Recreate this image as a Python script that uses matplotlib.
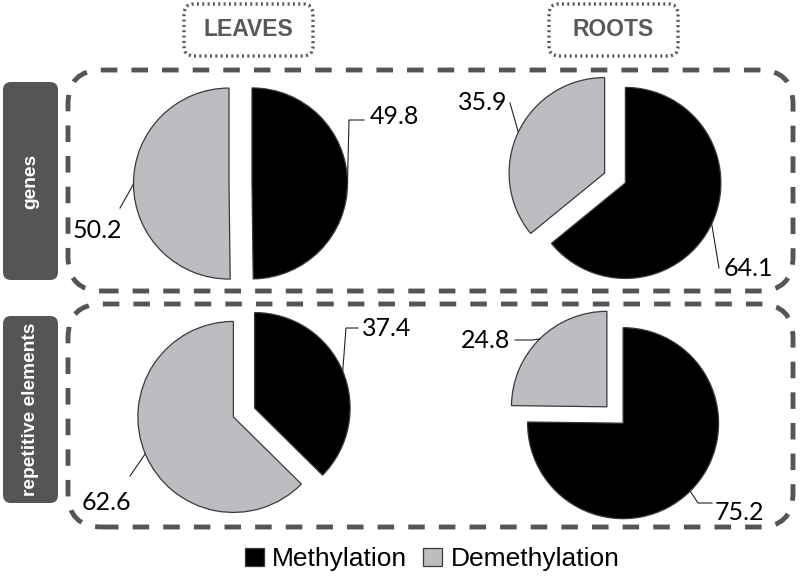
"""Methylation vs demethylation shares in leaves and roots, for genes and
repetitive elements: four exploded pies inside dashed row frames."""
import matplotlib

matplotlib.use("Agg")
import numpy as np
import matplotlib.pyplot as plt
from matplotlib.patches import FancyBboxPatch

tissues = ["LEAVES", "ROOTS"]
regions = ["genes", "repetitive elements"]
series = ["Methylation", "Demethylation"]
# panel order: leaves/genes, roots/genes, leaves/repeats, roots/repeats
methylation = [49.8, 64.1, 37.4, 75.2]
demethylation = [50.2, 35.9, 62.6, 24.8]

W, H = 800, 579
BLACK = "#000000"
GREY = "#bcbdc0"
FRAME = "#555555"


def Y(py):
    # work in pixel coordinates measured from the top
    return H - py


fig = plt.figure(figsize=(W / 100, H / 100), dpi=100)
ax = fig.add_axes([0, 0, 1, 1])

# pie centres (unexploded) in pixels
centres = [(240.5, 183.5), (615, 178), (244, 412.5), (615, 415)]
R = 95.5
EXPL = 11.5  # pie() offsets in data units, i.e. pixels here

# leader knees and text anchors per panel: (black label, grey label)
leaders = [
    (([(349, 120), (364, 120)], (370, 117), "left"),
     ([(120, 208)], (122, 230), "right")),
    (([(719, 268)], (724, 268), "left"),
     ([(510, 103)], (507, 103), "right")),
    (([(346, 328), (358, 328)], (362, 328), "left"),
     ([(130, 476)], (131, 503), "right")),
    (([(698, 503), (712, 503)], (715, 513), "left"),
     ([(533, 340), (515, 340)], (510, 340), "right")),
]

wedges_all = []
for i, (cx, cy) in enumerate(centres):
    vals = [methylation[i], demethylation[i]]
    wedges, _ = ax.pie(vals, colors=[BLACK, GREY], startangle=90,
                       counterclock=False, radius=R, center=(cx, Y(cy)),
                       explode=[EXPL, EXPL],
                       wedgeprops=dict(edgecolor="#3a3a3a", linewidth=0.9))
    wedges_all.append(wedges)
    for w, v, (pts, txy, ha) in zip(wedges, vals, leaders[i]):
        mid = np.deg2rad((w.theta1 + w.theta2) / 2)
        ex = w.center[0] + w.r * np.cos(mid)
        ey = w.center[1] + w.r * np.sin(mid)
        xs = [ex] + [p[0] for p in pts]
        ys = [ey] + [Y(p[1]) for p in pts]
        ax.plot(xs, ys, color="#222222", linewidth=0.8, zorder=4)
        ax.text(txy[0], Y(txy[1]), f"{v:.1f}", ha=ha, va="center",
                fontsize=18, family="Lato", color="black", zorder=5)

# dashed row frames
for top, bot in [(70, 291), (304, 527)]:
    ax.add_patch(FancyBboxPatch((68, Y(bot)), 793 - 68, bot - top,
                                boxstyle="round,pad=0,rounding_size=34",
                                facecolor="none", edgecolor=FRAME,
                                linewidth=3.5, linestyle=(0, (3.4, 2.9)),
                                zorder=1))

# dark row labels
for (top, bot), name in zip([(82, 280), (316, 503)], regions):
    ax.add_patch(FancyBboxPatch((3, Y(bot)), 55, bot - top,
                                boxstyle="round,pad=0,rounding_size=8",
                                facecolor="#555555", edgecolor="none"))
    ax.text(31, Y((top + bot) / 2), name, rotation=90, ha="center",
            va="center", color="white", fontsize=13.8, fontweight="bold",
            family="Liberation Sans")

# dotted column headers
for (x0, x1), name in zip([(184, 313), (549, 678)], tissues):
    ax.add_patch(FancyBboxPatch((x0, Y(56)), x1 - x0, 52,
                                boxstyle="round,pad=0,rounding_size=10",
                                facecolor="none", edgecolor="#555555",
                                linewidth=2.4, linestyle=(0, (0.6, 1.0))))
    ax.text((x0 + x1) / 2, Y(30), name, ha="center", va="center",
            color="#595959", fontsize=16.5, fontweight="bold",
            family="Liberation Sans")

leg = ax.legend(wedges_all[0], series, loc="center", ncol=2,
                bbox_to_anchor=(432 / W, 1 - 559 / H), frameon=False,
                prop=dict(family="Liberation Sans", size=19),
                handlelength=0.72, handleheight=0.7, handletextpad=0.32,
                columnspacing=0.6, borderpad=0, borderaxespad=0)

ax.set_xlim(0, W)
ax.set_ylim(0, H)
ax.set_aspect("equal")
ax.axis("off")

fig.savefig("out.png", dpi=100)
